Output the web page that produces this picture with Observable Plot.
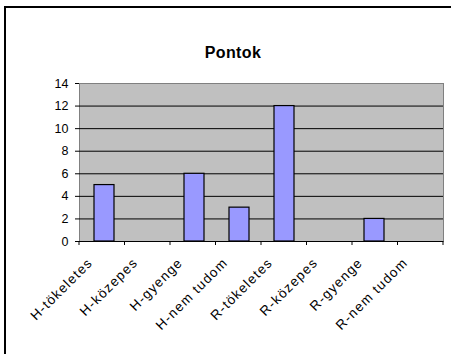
<!DOCTYPE html>
<html>
<head>
<meta charset="utf-8">
<script src="https://cdn.jsdelivr.net/npm/d3@7"></script>
<script src="https://cdn.jsdelivr.net/npm/@observablehq/plot@0.6"></script>
<style>
  html, body { margin: 0; padding: 0; background: #fff; overflow: hidden; }
  #wrap { position: relative; width: 451px; height: 354px; font-family: "Liberation Sans", Arial, sans-serif; }
  #box { position: absolute; left: 4px; top: 6px; width: 460px; height: 360px;
         border-top: 2px solid #000; border-left: 2px solid #000; box-sizing: border-box; }
  #title { position: absolute; left: 0; width: 466px; top: 44px; text-align: center;
           font-weight: bold; font-size: 16px; letter-spacing: 0.4px; color: #000; }
  #chart { position: absolute; left: 0; top: 0; }
  .xlab text { letter-spacing: 1.2px; }
</style>
</head>
<body>
<div id="wrap">
  <div id="box"></div>
  <div id="chart"></div>
  <div id="title">Pontok</div>
</div>
<script>
// Answers, in the order they appear on the category axis
const categories = ["H-tökeletes", "H-közepes", "H-gyenge", "H-nem tudom",
                    "R-tökeletes", "R-közepes", "R-gyenge", "R-nem tudom"];
// Points per answer
const points = [5, 0, 6, 3, 12, 0, 2, 0];
// Value axis ticks
const yTicks = [0, 2, 4, 6, 8, 10, 12, 14];

const rows = categories.map((c, i) => ({category: c, value: points[i]}));
const gridLines = yTicks.filter(t => t > 0 && t < 14);

const chart = Plot.plot({
  width: 451,
  height: 354,
  marginLeft: 79,
  marginRight: 8,
  marginTop: 83,
  marginBottom: 113,
  style: {fontFamily: "'Liberation Sans', Arial, sans-serif", fontSize: "12.5px", background: "transparent", overflow: "visible"},
  x: {domain: categories, paddingInner: 0.56, paddingOuter: 0.28, axis: null},
  y: {domain: [0, 14], axis: null},
  marks: [
    // plot area
    Plot.frame({fill: "#c0c0c0", stroke: "#808080"}),
    Plot.ruleY(gridLines, {stroke: "#000", strokeWidth: 1}),
    Plot.barY(rows, {x: "category", y: "value", fill: "#9999ff", stroke: "#000", strokeWidth: 1.2}),
    // value axis
    Plot.ruleX([0], {frameAnchor: "left", stroke: "#000"}),
    Plot.axisY({ticks: yTicks, tickSize: 4, tickPadding: 7, tickFormat: d => d, fontSize: 12.5, color: "#000", label: null}),
    // category axis
    Plot.ruleY([0], {stroke: "#000"}),
    Plot.text(categories, {
      x: d => d, frameAnchor: "bottom", rotate: -45, textAnchor: "end",
      dx: -11, dy: 22, fontSize: 13.5, fill: "#000", className: "xlab"
    })
  ]
});

// tick marks at the category boundaries along the bottom axis
const xs = chart.scale("x");
const bounds = d3.range(categories.length + 1).map(i => xs.range[0] + i * (xs.range[1] - xs.range[0]) / categories.length);
const svg = d3.select(chart);
svg.append("g")
  .selectAll("line")
  .data(bounds)
  .join("line")
  .attr("x1", d => d).attr("x2", d => d)
  .attr("y1", 241).attr("y2", 245)
  .attr("stroke", "#000");

document.getElementById("chart").appendChild(chart);
</script>
</body>
</html>
